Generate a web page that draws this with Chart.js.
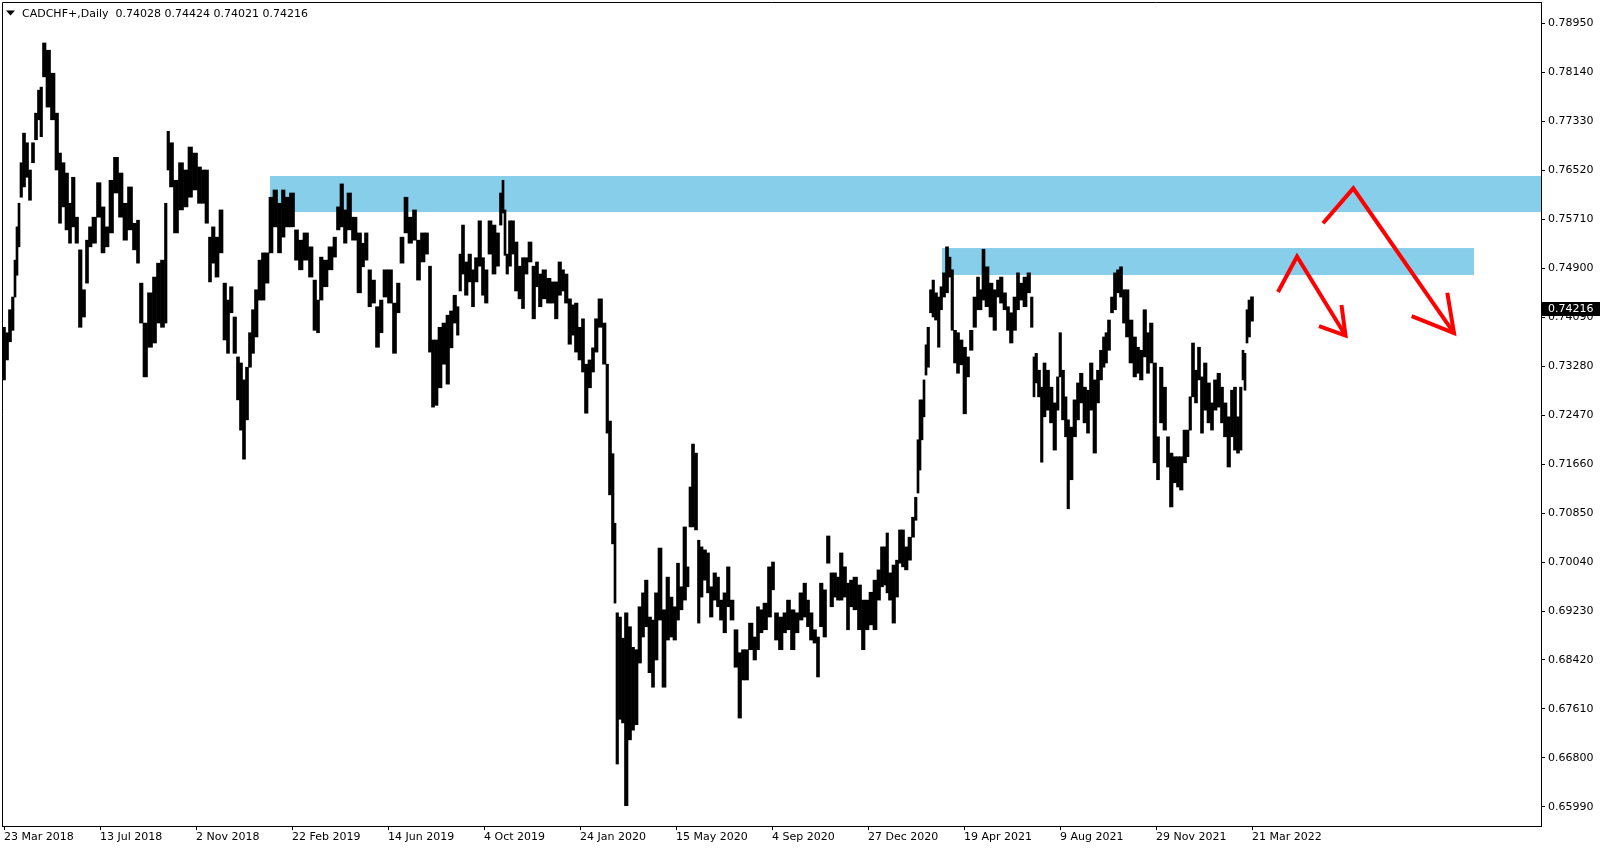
<!DOCTYPE html>
<html><head><meta charset="utf-8">
<script src="https://cdn.jsdelivr.net/npm/chart.js@4.4.1/dist/chart.umd.min.js"></script>
<style>html,body{margin:0;padding:0;background:#fff;}canvas{display:block;}</style>
</head><body>
<canvas id="c" width="1605" height="850"></canvas>
<script>
const symbolTitle = 'CADCHF+,Daily';
const lastBarOHLC = [0.74028, 0.74424, 0.74021, 0.74216];

const barIndex = [
0,3,6,9,11,13,15,17,20,23,26,29,32,35,37,40,44,49,53,56,
59,63,66,69,73,76,80,83,86,90,95,99,103,107,112,117,121,126,131,134,
137,141,146,151,154,159,162,164,167,172,177,182,186,191,196,199,203,206,209,213,
217,221,224,227,231,234,237,240,243,246,249,252,256,259,263,267,271,276,279,283,
288,293,296,302,307,311,314,317,321,327,331,334,338,341,345,350,356,359,362,366,
369,374,377,381,386,391,394,398,402,406,411,414,419,423,426,429,432,436,440,444,
447,451,454,456,459,462,466,469,472,476,479,482,486,490,494,497,499,501,503,506,509,
512,516,519,522,526,530,533,536,540,545,549,552,556,559,562,566,569,572,576,579,
582,586,589,592,596,601,603,606,609,611,613,616,619,622,626,629,632,636,639,642,
646,649,652,656,660,664,667,671,674,677,681,684,686,689,692,695,697,701,704,707,
711,714,717,721,724,728,732,736,739,742,747,751,754,757,761,766,769,772,777,781,
784,789,793,797,801,804,807,811,814,817,821,824,828,831,834,837,841,844,847,851,
856,859,863,867,871,875,878,881,883,886,890,893,896,899,902,906,909,912,914,916,
918,920,922,924,927,929,932,935,937,940,943,946,948,951,954,957,961,964,967,971,
974,977,979,983,987,991,994,997,1001,1004,1007,1011,1014,1017,1021,1025,1028,1030,1032,1035,
1038,1040,1044,1047,1051,1054,1056,1059,1062,1064,1067,1071,1074,1077,1081,1084,1087,1091,1094,1097,
1100,1102,1105,1108,1111,1114,1117,1120,1123,1127,1131,1134,1137,1141,1144,1147,1151,1154,1157,1161,
1164,1167,1171,1174,1177,1181,1184,1186,1189,1192,1195,1198,1201,1205,1208,1211,1215,1218,1221,1225,
1228,1231,1234,1237,1239,1241,1243,1245,1248
];

const lows = [
0.7305,0.7338,0.7368,0.7387,0.7442,0.7478,0.7525,0.7607,0.7624,0.7640,0.7602,0.7664,0.7702,0.7735,0.7707,0.7806,0.7756,0.7735,0.7652,0.7564,
0.7591,0.7553,0.7531,0.7558,0.7531,0.7392,0.7409,0.7465,0.7525,0.7531,0.7574,0.7515,0.7525,0.7548,0.7614,0.7574,0.7536,0.7553,0.7520,0.7498,
0.7399,0.7310,0.7359,0.7366,0.7399,0.7392,0.7399,0.7652,0.7624,0.7548,0.7586,0.7591,0.7607,0.7619,0.7597,0.7597,0.7564,0.7467,0.7498,0.7475,
0.7515,0.7371,0.7349,0.7416,0.7349,0.7272,0.7222,0.7174,0.7239,0.7326,0.7349,0.7376,0.7437,0.7437,0.7465,0.7515,0.7558,0.7515,0.7541,0.7558,
0.7558,0.7503,0.7487,0.7503,0.7475,0.7387,0.7383,0.7437,0.7459,0.7487,0.7508,0.7553,0.7558,0.7531,0.7553,0.7536,0.7449,0.7492,0.7503,0.7426,
0.7432,0.7359,0.7383,0.7442,0.7432,0.7349,0.7416,0.7498,0.7548,0.7531,0.7536,0.7470,0.7500,0.7513,0.7351,0.7260,0.7263,0.7292,0.7331,0.7298,
0.7358,0.7399,0.7379,0.7452,0.7480,0.7445,0.7467,0.7426,0.7467,0.7493,0.7445,0.7432,0.7513,0.7480,0.7493,0.7561,0.7581,0.7511,0.7480,0.7493,0.7513,
0.7452,0.7439,0.7423,0.7480,0.7500,0.7406,0.7459,0.7426,0.7439,0.7432,0.7432,0.7406,0.7445,0.7452,0.7432,0.7364,0.7379,0.7351,0.7338,0.7318,
0.7250,0.7292,0.7318,0.7351,0.7392,0.7331,0.7217,0.7115,0.7034,0.6936,0.6670,0.6744,0.6738,0.6601,0.6710,0.6726,0.6735,0.6837,0.6880,0.6897,
0.6821,0.6797,0.6842,0.6908,0.6797,0.6875,0.6880,0.6875,0.6908,0.6925,0.6941,0.6963,0.7062,0.7062,0.7057,0.6903,0.6946,0.6974,0.6953,0.6913,
0.6941,0.6930,0.6908,0.6887,0.6930,0.6908,0.6830,0.6746,0.6809,0.6809,0.6859,0.6842,0.6859,0.6887,0.6892,0.6913,0.6958,0.6875,0.6859,0.6887,
0.6892,0.6859,0.6887,0.6908,0.6913,0.6897,0.6875,0.6870,0.6814,0.6897,0.6880,0.7002,0.6930,0.6946,0.6941,0.6941,0.6946,0.6892,0.6930,0.6925,
0.6892,0.6859,0.6892,0.6900,0.6892,0.6941,0.6963,0.6966,0.6953,0.6941,0.6903,0.6946,0.7002,0.6996,0.6991,0.7007,0.7045,0.7073,0.7118,0.7156,
0.7206,0.7244,0.7313,0.7326,0.7416,0.7409,0.7404,0.7359,0.7421,0.7442,0.7449,0.7475,0.7387,0.7333,0.7316,0.7330,0.7249,0.7310,0.7354,0.7392,
0.7421,0.7421,0.7437,0.7426,0.7409,0.7387,0.7442,0.7432,0.7421,0.7387,0.7366,0.7387,0.7421,0.7437,0.7426,0.7449,0.7392,0.7277,0.7300,0.7277,
0.7169,0.7244,0.7255,0.7234,0.7189,0.7255,0.7310,0.7239,0.7211,0.7092,0.7140,0.7211,0.7239,0.7267,0.7234,0.7217,0.7255,0.7184,0.7267,0.7305,
0.7326,0.7333,0.7354,0.7416,0.7421,0.7449,0.7442,0.7399,0.7376,0.7333,0.7310,0.7316,0.7305,0.7343,0.7316,0.7333,0.7168,0.7140,0.7234,0.7222,
0.7161,0.7095,0.7135,0.7128,0.7123,0.7168,0.7178,0.7222,0.7277,0.7267,0.7305,0.7217,0.7255,0.7234,0.7222,0.7255,0.7260,0.7234,0.7211,0.7161,
0.7211,0.7189,0.7184,0.7189,0.7305,0.7288,0.7366,0.7376,0.74021
];

const highs = [
0.7392,0.7383,0.7421,0.7442,0.7503,0.7558,0.7597,0.7664,0.7713,0.7697,0.7652,0.7697,0.7746,0.7784,0.7789,0.7862,0.7850,0.7812,0.7746,0.7680,
0.7664,0.7647,0.7597,0.7640,0.7574,0.7520,0.7454,0.7536,0.7558,0.7574,0.7631,0.7591,0.7558,0.7635,0.7673,0.7647,0.7597,0.7624,0.7564,0.7569,
0.7465,0.7399,0.7449,0.7475,0.7498,0.7503,0.7597,0.7716,0.7697,0.7635,0.7664,0.7652,0.7690,0.7680,0.7657,0.7652,0.7652,0.7541,0.7558,0.7541,
0.7586,0.7465,0.7437,0.7459,0.7409,0.7343,0.7333,0.7305,0.7326,0.7383,0.7421,0.7454,0.7503,0.7515,0.7515,0.7607,0.7619,0.7597,0.7619,0.7607,
0.7614,0.7553,0.7536,0.7548,0.7525,0.7470,0.7437,0.7508,0.7503,0.7525,0.7541,0.7591,0.7629,0.7586,0.7614,0.7574,0.7548,0.7531,0.7548,0.7487,
0.7470,0.7426,0.7437,0.7487,0.7487,0.7432,0.7465,0.7541,0.7607,0.7574,0.7586,0.7536,0.7548,0.7548,0.7493,0.7371,0.7371,0.7392,0.7399,0.7412,
0.7419,0.7445,0.7426,0.7513,0.7561,0.7500,0.7513,0.7487,0.7507,0.7568,0.7507,0.7487,0.7568,0.7561,0.7548,0.7614,0.7635,0.7586,0.7513,0.7568,0.7568,
0.7533,0.7493,0.7507,0.7507,0.7533,0.7493,0.7500,0.7480,0.7487,0.7473,0.7467,0.7467,0.7500,0.7487,0.7480,0.7439,0.7429,0.7432,0.7392,0.7406,
0.7331,0.7338,0.7358,0.7406,0.7439,0.7399,0.7331,0.7237,0.7183,0.7068,0.6920,0.6913,0.6878,0.6920,0.6897,0.6863,0.6859,0.6930,0.6953,0.6974,
0.6913,0.6908,0.6953,0.7027,0.6925,0.6979,0.6946,0.6930,0.7002,0.6963,0.7062,0.6996,0.7128,0.7199,0.7184,0.7040,0.7029,0.7024,0.7019,0.6963,
0.6986,0.6979,0.6941,0.6953,0.6996,0.6941,0.6892,0.6854,0.6859,0.6859,0.6903,0.6880,0.6930,0.6925,0.6936,0.6996,0.7004,0.6920,0.6913,0.6920,
0.6941,0.6925,0.6920,0.6953,0.6969,0.6941,0.6920,0.6892,0.6880,0.6969,0.6958,0.7047,0.6986,0.6986,0.6979,0.7019,0.6996,0.6969,0.6974,0.6979,
0.6966,0.6941,0.6941,0.6954,0.6974,0.6991,0.7029,0.7029,0.7052,0.6986,0.6999,0.7007,0.7057,0.7057,0.7029,0.7045,0.7078,0.7111,0.7206,0.7272,
0.7272,0.7305,0.7363,0.7392,0.7454,0.7470,0.7449,0.7442,0.7459,0.7482,0.7525,0.7508,0.7487,0.7387,0.7383,0.7371,0.7359,0.7343,0.7387,0.7442,
0.7475,0.7454,0.7521,0.7492,0.7465,0.7454,0.7470,0.7475,0.7449,0.7426,0.7416,0.7442,0.7482,0.7465,0.7475,0.7482,0.7442,0.7343,0.7349,0.7321,
0.7293,0.7333,0.7321,0.7293,0.7267,0.7310,0.7383,0.7321,0.7277,0.7239,0.7227,0.7272,0.7300,0.7316,0.7293,0.7288,0.7333,0.7305,0.7321,0.7354,
0.7376,0.7383,0.7404,0.7442,0.7482,0.7487,0.7492,0.7454,0.7454,0.7404,0.7376,0.7359,0.7354,0.7421,0.7383,0.7399,0.7333,0.7211,0.7326,0.7293,
0.7211,0.7184,0.7178,0.7178,0.7178,0.7222,0.7222,0.7277,0.7366,0.7321,0.7359,0.7310,0.7333,0.7300,0.7267,0.7305,0.7316,0.7293,0.7267,0.7244,
0.7288,0.7293,0.7244,0.7293,0.7354,0.7349,0.7421,0.7437,0.74424
];

const dateTickBars = [0,96,192,288,384,480,576,672,768,864,960,1056,1152,1248];
const dateTickLabels = ['23 Mar 2018','13 Jul 2018','2 Nov 2018','22 Feb 2019','14 Jun 2019','4 Oct 2019','24 Jan 2020','15 May 2020','4 Sep 2020','27 Dec 2020','19 Apr 2021','9 Aug 2021','29 Nov 2021','21 Mar 2022'];
const priceTicks = [0.65990,0.66800,0.67610,0.68420,0.69230,0.70040,0.70850,0.71660,0.72470,0.73280,0.74090,0.74900,0.75710,0.76520,0.77330,0.78140,0.78950];

// supply/resistance zones (bar index range, price range)
const zoneStartBar = [266, 938];
const zoneEndBar = [1545, 1470];
const zoneTopPrice = [0.76421, 0.75230];
const zoneBottomPrice = [0.75825, 0.74784];

// red projection arrows
const arrow1ShaftBars = [1274, 1293, 1341.5];
const arrow1ShaftPrices = [0.74503, 0.75090, 0.73784];
const arrow1HeadBars = [1315, 1341.5, 1337.5];
const arrow1HeadPrices = [0.73940, 0.73784, 0.74288];
const arrow2ShaftBars = [1319, 1349.3, 1450];
const arrow2ShaftPrices = [0.75639, 0.76217, 0.73825];
const arrow2HeadBars = [1407.7, 1450, 1443.3];
const arrow2HeadPrices = [0.74106, 0.73825, 0.74491];

const FONT = '"DejaVu Sans", sans-serif';

const toXY = (xs, ys) => xs.map((x, i) => ({x: x, y: ys[i]}));

const zonesPlugin = {
  id: 'zones',
  beforeDatasetsDraw(chart) {
    const {ctx, chartArea: a, scales: {x, y}} = chart;
    ctx.save();
    ctx.beginPath();
    ctx.rect(a.left, a.top, a.right - a.left, a.bottom - a.top);
    ctx.clip();
    ctx.fillStyle = '#87CEEB';
    for (let i = 0; i < zoneStartBar.length; i++) {
      const x0 = x.getPixelForValue(zoneStartBar[i]);
      const x1 = x.getPixelForValue(zoneEndBar[i]);
      const y0 = y.getPixelForValue(zoneTopPrice[i]);
      const y1 = y.getPixelForValue(zoneBottomPrice[i]);
      ctx.fillRect(x0, y0, x1 - x0, y1 - y0);
    }
    ctx.restore();
  }
};

const framePlugin = {
  id: 'frame',
  afterDraw(chart) {
    const {ctx, chartArea: a, scales: {y}} = chart;
    ctx.save();
    ctx.strokeStyle = '#000';
    ctx.lineWidth = 1;
    ctx.beginPath();
    ctx.moveTo(a.left + 0.5, a.bottom);
    ctx.lineTo(a.left + 0.5, a.top + 0.5);
    ctx.lineTo(a.right, a.top + 0.5);
    ctx.stroke();
    // title
    ctx.fillStyle = '#000';
    ctx.beginPath();
    ctx.moveTo(6, 10.5); ctx.lineTo(15, 10.5); ctx.lineTo(10.5, 15.5); ctx.closePath();
    ctx.fill();
    ctx.font = '11px ' + FONT;
    ctx.textBaseline = 'alphabetic';
    ctx.textAlign = 'left';
    ctx.fillText(symbolTitle + '  ' + lastBarOHLC.map(v => v.toFixed(5)).join(' '), 22, 17);
    // current price label
    const close = lastBarOHLC[3];
    const yc = Math.round(y.getPixelForValue(close));
    ctx.fillStyle = '#000';
    ctx.fillRect(a.right + 1, yc - 7, 58, 14);
    ctx.fillStyle = '#fff';
    ctx.textBaseline = 'middle';
    ctx.fillText(close.toFixed(5), a.right + 7, yc + 0.5);
    ctx.restore();
  }
};

new Chart(document.getElementById('c'), {
  type: 'bar',
  data: {
    datasets: [
      {type: 'line', data: toXY(arrow1ShaftBars, arrow1ShaftPrices), borderColor: '#ff0000', borderWidth: 4, pointRadius: 0, fill: false, tension: 0, order: 0},
      {type: 'line', data: toXY(arrow1HeadBars, arrow1HeadPrices), borderColor: '#ff0000', borderWidth: 4, pointRadius: 0, fill: false, tension: 0, order: 0},
      {type: 'line', data: toXY(arrow2ShaftBars, arrow2ShaftPrices), borderColor: '#ff0000', borderWidth: 4, pointRadius: 0, fill: false, tension: 0, order: 0},
      {type: 'line', data: toXY(arrow2HeadBars, arrow2HeadPrices), borderColor: '#ff0000', borderWidth: 4, pointRadius: 0, fill: false, tension: 0, order: 0},
      {type: 'bar', data: barIndex.map((b, i) => ({x: b, y: [lows[i], highs[i]]})), backgroundColor: '#000', borderWidth: 0,
       barThickness: 'flex', barPercentage: 1, categoryPercentage: 1, order: 1}
    ]
  },
  options: {
    responsive: false,
    animation: false,
    devicePixelRatio: 1,
    events: [],
    layout: {padding: {left: 2, top: 2, right: 0, bottom: 0}},
    plugins: {legend: {display: false}, tooltip: {enabled: false}, title: {display: false}},
    scales: {
      x: {
        type: 'linear',
        min: -2, max: 1537,
        offset: false,
        afterFit(s) { s.height = 24; s.paddingLeft = 0; s.paddingRight = 0; },
        afterBuildTicks(s) { s.ticks = dateTickBars.map(v => ({value: v})); },
        grid: {drawOnChartArea: false, drawTicks: true, tickLength: 4, color: '#000', offset: false},
        border: {display: true, color: '#000', width: 1},
        ticks: {
          align: 'start', autoSkip: false, maxRotation: 0, minRotation: 0, padding: 1,
          color: '#000', font: {family: FONT, size: 11},
          callback: (v, i) => dateTickLabels[i]
        }
      },
      y: {
        type: 'linear',
        position: 'right',
        min: 0.656759, max: 0.792972,
        afterFit(s) { s.width = 64; s.paddingTop = 0; s.paddingBottom = 0; },
        afterBuildTicks(s) { s.ticks = priceTicks.map(v => ({value: v})); },
        grid: {drawOnChartArea: false, drawTicks: true, tickLength: 4, color: '#000'},
        border: {display: true, color: '#000', width: 1},
        ticks: {
          padding: 3, color: '#000', font: {family: FONT, size: 11},
          callback: v => Number(v).toFixed(5)
        }
      }
    }
  },
  plugins: [zonesPlugin, framePlugin]
});
</script>
</body></html>
